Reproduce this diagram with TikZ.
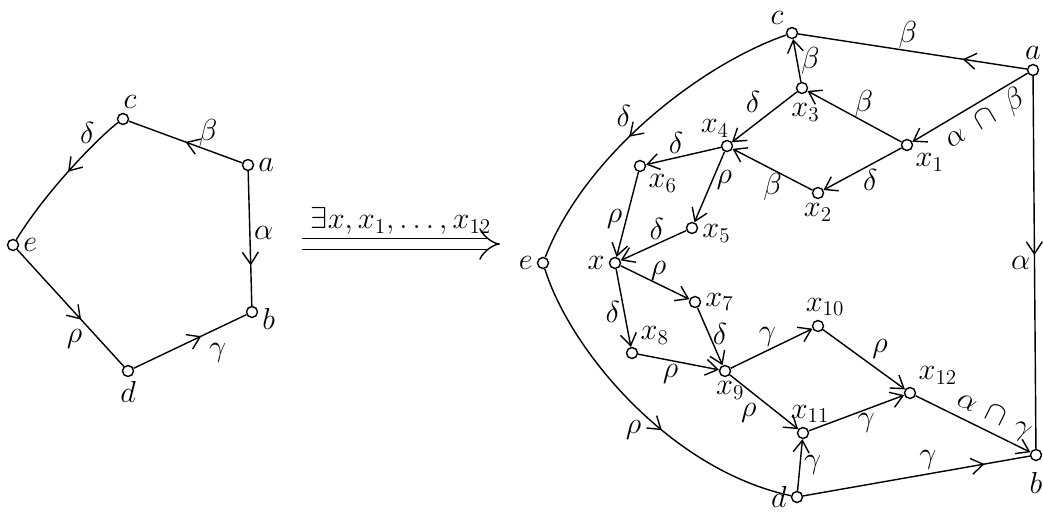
\documentclass[tikz,border=0pt]{standalone}
\usetikzlibrary{arrows.meta,decorations.markings}

\tikzset{
    vtx/.style={circle, draw, fill=white, minimum size=2.2mm, inner sep=0pt},
    lbl/.style={font=\LARGE, inner sep=2pt},
    midarrow/.style={postaction={decorate},
        decoration={markings, mark=at position #1 with {\arrow{>}}}},
}

\begin{document}
\begin{tikzpicture}[>={Straight Barb[length=2.4mm,width=3.2mm]}, line width=0.8pt,
    every label/.style={font=\LARGE, inner sep=2pt}]
    \useasboundingbox (0,0) rectangle (20.86,10.3);

    % Grafo sinistro
    \node[vtx, label={[xshift=4pt]above:$c$}] (lc) at (2.46,7.92) {};
    \node[vtx, label={right:$a$}] (la) at (4.96,7.00) {};
    \node[vtx, label={right:$e$}] (le) at (0.26,5.40) {};
    \node[vtx, label={[yshift=-4pt]right:$b$}] (lb) at (5.04,4.06) {};
    \node[vtx, label={below:$d$}] (ld) at (2.56,2.88) {};

    \draw[midarrow=0.5] (la) -- node[lbl, pos=0.3, above] {$\beta$} (lc);
    \draw[midarrow=0.45] (lc) .. controls (2.10,7.66) and (1.00,6.60) .. node[lbl, pos=0.2, left=4pt] {$\delta$} (le);
    \draw[midarrow=0.7] (la) -- node[lbl, pos=0.46, right] {$\alpha$} (lb);
    \draw[midarrow=0.6] (le) -- node[lbl, pos=0.65, below left] {$\rho$} (ld);
    \draw[midarrow=0.6] (ld) -- node[lbl, pos=0.6, below right=2pt] {$\gamma$} (lb);

    % Freccia doppia
    \coordinate (from) at (6.04,5.42);
    \coordinate (to) at (10.00,5.42);
    \draw[double, double distance=2mm, -Implies] (from) -- node[lbl, above=3pt] {$\exists x, x_1,\dots,x_{12}$} (to);

    % Grafo destro: vertici
    \node[vtx, label={above left:$c$}] (c) at (15.84,9.64) {};
    \node[vtx, label={above:$a$}] (a) at (20.66,8.90) {};
    \node[vtx, label={left:$e$}] (e) at (10.86,5.04) {};
    \node[vtx, label={[label distance=4pt]below:$b$}] (b) at (20.72,1.20) {};
    \node[vtx, label={left:$d$}] (d) at (15.94,0.36) {};
    \node[vtx, label={left:$x$}] (x) at (12.30,5.04) {};
    \node[vtx, label={below right:$x_1$}] (x1) at (18.14,7.40) {};
    \node[vtx, label={below:$x_2$}] (x2) at (16.36,6.44) {};
    \node[vtx, label={[xshift=2pt, yshift=-3pt]below:$x_3$}] (x3) at (16.04,8.54) {};
    \node[vtx, label={[xshift=6pt]above left:$x_4$}] (x4) at (14.54,7.38) {};
    \node[vtx, label={[yshift=-3pt]right:$x_5$}] (x5) at (13.84,5.74) {};
    \node[vtx, label={below right:$x_6$}] (x6) at (12.80,6.98) {};
    \node[vtx, label={right:$x_7$}] (x7) at (13.90,4.26) {};
    \node[vtx, label={above right:$x_8$}] (x8) at (12.64,3.24) {};
    \node[vtx, label={[xshift=3pt]below:$x_9$}] (x9) at (14.50,2.88) {};
    \node[vtx, label={[xshift=4pt]above:$x_{10}$}] (x10) at (16.36,3.78) {};
    \node[vtx, label={[xshift=4pt]above:$x_{11}$}] (x11) at (16.06,1.64) {};
    \node[vtx, label={above right:$x_{12}$}] (x12) at (18.20,2.44) {};

    % Grafo destro: parte alta
    \draw[midarrow=0.28] (a) -- node[lbl, pos=0.52, above=-1pt] {$\beta$} (c);
    \draw[->] (a) -- node[lbl, pos=0.45, below, sloped] {$\alpha\;\cap\;\beta$} (x1);
    \draw[->] (x1) -- node[lbl, pos=0.4, above] {$\beta$} (x3);
    \draw[->] (x3) -- node[lbl, midway, right] {$\beta$} (c);
    \draw[->] (x1) -- node[lbl, pos=0.4, below] {$\delta$} (x2);
    \draw[->] (x2) -- node[lbl, midway, below] {$\beta$} (x4);
    \draw[->] (x3) -- node[lbl, midway, above left] {$\delta$} (x4);
    \draw[->] (x4) -- node[lbl, pos=0.6, above] {$\delta$} (x6);
    \draw[->] (x4) -- node[lbl, pos=0.4, right] {$\rho$} (x5);
    \draw[->] (x6) -- node[lbl, pos=0.55, left] {$\rho$} (x);
    \draw[->] (x5) -- node[lbl, pos=0.45, above] {$\delta$} (x);
    \draw[midarrow=0.56] (c) .. controls (14.00,9.00) and (11.70,7.20) .. node[lbl, pos=0.55, above left] {$\delta$} (e);

    % Grafo destro: parte bassa
    \draw[->] (x) -- node[lbl, pos=0.55, above] {$\rho$} (x7);
    \draw[->] (x) -- node[lbl, pos=0.55, left] {$\delta$} (x8);
    \draw[->] (x7) -- node[lbl, pos=0.45, right] {$\delta$} (x9);
    \draw[->] (x8) -- node[lbl, pos=0.4, below] {$\rho$} (x9);
    \draw[->] (x9) -- node[lbl, pos=0.45, above] {$\gamma$} (x10);
    \draw[->] (x9) -- node[lbl, pos=0.45, below left] {$\rho$} (x11);
    \draw[->] (x10) -- node[lbl, pos=0.55, above right] {$\rho$} (x12);
    \draw[->] (x11) -- node[lbl, pos=0.6, below] {$\gamma$} (x12);
    \draw[->] (x12) -- node[lbl, pos=0.62, above, sloped] {$\alpha\,\cap\,\gamma$} (b);
    \draw[->] (d) -- node[lbl, midway, right] {$\gamma$} (x11);
    \draw[midarrow=0.8] (d) -- node[lbl, pos=0.55, above] {$\gamma$} (b);
    \draw[midarrow=0.48] (a) -- node[lbl, midway, left] {$\alpha$} (b);
    \draw[midarrow=0.58] (e) .. controls (11.40,3.30) and (13.40,0.90) .. node[lbl, pos=0.55, below left] {$\rho$} (d);
\end{tikzpicture}
\end{document}
